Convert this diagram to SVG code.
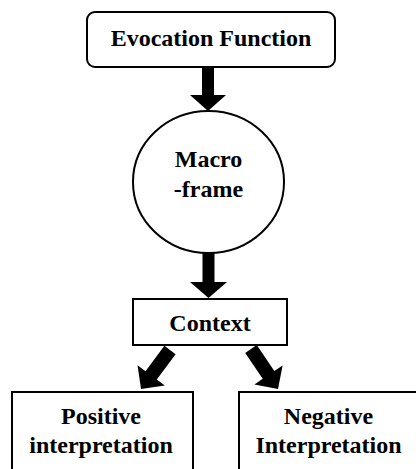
<svg xmlns="http://www.w3.org/2000/svg" width="416" height="469" viewBox="0 0 416 469">
<style>
.box{fill:#fff;stroke:#000;stroke-width:2}
.t{font-family:"Liberation Serif","Times New Roman","DejaVu Serif",serif;font-weight:bold;font-size:24px;text-anchor:middle;fill:#000}
.arr{fill:#000;stroke:none}
</style>
<rect width="416" height="469" fill="#fff"/>
<g id="connectors">
<polygon class="arr" points="202,67 214,67 214,95 226,95 208,111 190,95 202,95"/>
<polygon class="arr" points="202.5,253 214.5,253 214.5,282 227,282 208.5,298 190,282 202.5,282"/>
<polygon class="arr" transform="translate(170,350) rotate(126.6)" points="0,-7 31.6,-7 31.6,-17 48.6,0 31.6,17 31.6,7 0,7"/>
<polygon class="arr" transform="translate(251,349) rotate(56)" points="0,-7 31.3,-7 31.3,-17 48.3,0 31.3,17 31.3,7 0,7"/>
</g>
<g id="evocation">
<rect class="box" x="87" y="12" width="248" height="55" rx="8"/>
<text class="t" x="211" y="46" font-family="Liberation Serif, serif">Evocation Function</text>
</g>
<g id="macroframe">
<ellipse class="box" cx="208.5" cy="182" rx="75.5" ry="71"/>
<text class="t" x="208.5" y="167">Macro</text>
<text class="t" x="208.5" y="197">-frame</text>
</g>
<g id="context">
<rect class="box" x="133" y="299" width="154" height="46"/>
<text class="t" x="210" y="331">Context</text>
</g>
<g id="positive">
<rect class="box" x="12" y="392" width="181" height="90"/>
<text class="t" x="101" y="424">Positive</text>
<text class="t" x="101" y="453">interpretation</text>
</g>
<g id="negative">
<rect class="box" x="239" y="392" width="190" height="90"/>
<text class="t" x="328.5" y="424">Negative</text>
<text class="t" x="328.5" y="453">Interpretation</text>
</g>
</svg>
